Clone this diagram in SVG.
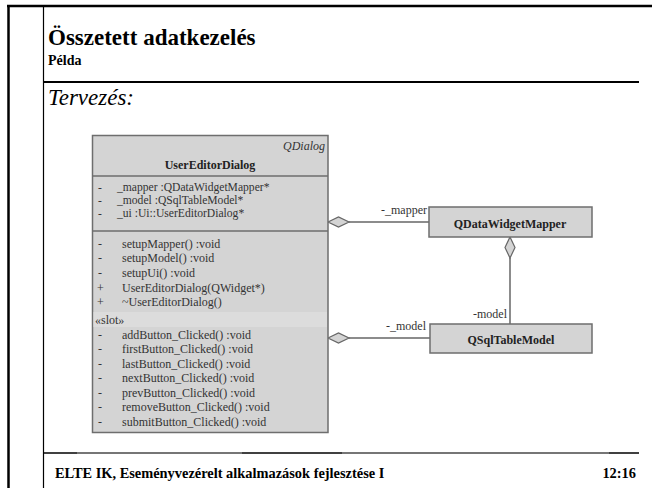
<svg xmlns="http://www.w3.org/2000/svg" width="652" height="488" viewBox="0 0 652 488">
  <style>
    .frame { stroke: #000; fill: none; }
    .title { font-family: "Liberation Serif", serif; font-weight: bold; fill: #000; }
    .box { fill: #d4d4d4; stroke: #6e6e6e; stroke-width: 1.5; }
    .sep { stroke: #6e6e6e; stroke-width: 1.5; }
    .mem { font-family: "Liberation Serif", serif; font-size: 12px; fill: #333; }
    .attr { font-family: "Liberation Serif", serif; font-size: 11.6px; fill: #333; }
    .cname { font-family: "Liberation Serif", serif; font-size: 12px; font-weight: bold; fill: #222; text-anchor: middle; }
    .conn { stroke: #666; stroke-width: 1.5; fill: none; }
    .diamond { fill: #d4d4d4; stroke: #666; stroke-width: 1.2; }
    .role { font-family: "Liberation Serif", serif; font-size: 12px; fill: #333; }
  </style>

  <rect width="652" height="488" fill="#fff"/>

  <!-- page frame -->
  <g id="frame">
    <line class="frame" x1="8.5" y1="5" x2="8.5" y2="488" stroke-width="2.5"/>
    <line class="frame" x1="7" y1="6" x2="652" y2="6" stroke-width="2.5"/>
    <line class="frame" x1="43.5" y1="6" x2="43.5" y2="488" stroke-width="1.2"/>
    <line class="frame" x1="43" y1="82" x2="639" y2="82" stroke-width="2"/>
    <line class="frame" x1="43" y1="453" x2="639" y2="453" stroke-width="1.5"/>
    <line x1="77" y1="453" x2="242" y2="453" stroke="#888" stroke-width="1.5"/>
    <line x1="342" y1="453" x2="609" y2="453" stroke="#888" stroke-width="1.5"/>
  </g>

  <!-- slide headings -->
  <text class="title" x="48" y="45" font-size="23">Összetett adatkezelés</text>
  <text class="title" x="48" y="64.5" font-size="14">Példa</text>
  <text x="48" y="105" font-family="Liberation Serif, serif" font-style="italic" font-size="23" fill="#000">Tervezés:</text>

  <!-- footer -->
  <text class="title" x="55" y="478" font-size="14.4">ELTE IK, Eseményvezérelt alkalmazások fejlesztése I</text>
  <text class="title" x="636" y="478" font-size="14.4" text-anchor="end">12:16</text>

  <!-- connectors -->
  <g id="connectors">
    <line class="conn" x1="349" y1="222" x2="429" y2="222"/>
    <polygon class="diamond" points="328,222 338.5,217 349,222 338.5,227"/>
    <text class="role" x="427" y="214" text-anchor="end">-_mapper</text>

    <line class="conn" x1="349" y1="338" x2="430" y2="338"/>
    <polygon class="diamond" points="328,338 338.5,333 349,338 338.5,343"/>
    <text class="role" x="426" y="330" text-anchor="end">-_model</text>

    <line class="conn" x1="510" y1="258" x2="510" y2="324"/>
    <polygon class="diamond" points="510,237 515,247.5 510,258 505,247.5"/>
    <text class="role" x="507" y="318" text-anchor="end">-model</text>
  </g>

  <!-- UserEditorDialog class -->
  <g id="UserEditorDialog">
    <rect class="box" x="92.5" y="135.5" width="235.5" height="297"/>
    <text x="325" y="150" font-family="Liberation Serif, serif" font-style="italic" font-size="12" fill="#333" text-anchor="end">QDialog</text>
    <text class="cname" x="210" y="169">UserEditorDialog</text>
    <line class="sep" x1="92.5" y1="176" x2="328" y2="176"/>
    <text class="attr" x="98" y="190.5">-</text>
    <text class="attr" x="117" y="190.5">_mapper :QDataWidgetMapper*</text>
    <text class="attr" x="98" y="203.5">-</text>
    <text class="attr" x="117" y="203.5">_model :QSqlTableModel*</text>
    <text class="attr" x="98" y="216.5">-</text>
    <text class="attr" x="117" y="216.5">_ui :Ui::UserEditorDialog*</text>
    <line class="sep" x1="92.5" y1="231" x2="328" y2="231"/>
    <text class="mem" x="98" y="248">-</text>
    <text class="mem" x="122" y="248">setupMapper() :void</text>
    <text class="mem" x="98" y="261.5">-</text>
    <text class="mem" x="122" y="261.5">setupModel() :void</text>
    <text class="mem" x="98" y="277">-</text>
    <text class="mem" x="122" y="277">setupUi() :void</text>
    <text class="mem" x="97" y="292">+</text>
    <text class="mem" x="122" y="292">UserEditorDialog(QWidget*)</text>
    <text class="mem" x="97" y="306">+</text>
    <text class="mem" x="122" y="306">~UserEditorDialog()</text>
    <rect x="93.5" y="312" width="233.5" height="15" fill="#dcdcdc"/>
    <text class="mem" x="95" y="324">«slot»</text>
    <text class="mem" x="98" y="339">-</text>
    <text class="mem" x="122" y="339">addButton_Clicked() :void</text>
    <text class="mem" x="98" y="353">-</text>
    <text class="mem" x="122" y="353">firstButton_Clicked() :void</text>
    <text class="mem" x="98" y="367.5">-</text>
    <text class="mem" x="122" y="367.5">lastButton_Clicked() :void</text>
    <text class="mem" x="98" y="382">-</text>
    <text class="mem" x="122" y="382">nextButton_Clicked() :void</text>
    <text class="mem" x="98" y="397">-</text>
    <text class="mem" x="122" y="397">prevButton_Clicked() :void</text>
    <text class="mem" x="98" y="411">-</text>
    <text class="mem" x="122" y="411">removeButton_Clicked() :void</text>
    <text class="mem" x="98" y="426">-</text>
    <text class="mem" x="122" y="426">submitButton_Clicked() :void</text>
  </g>

  <!-- QDataWidgetMapper class -->
  <g id="QDataWidgetMapper">
    <rect class="box" x="429" y="207" width="163" height="30"/>
    <text class="cname" x="510" y="228">QDataWidgetMapper</text>
  </g>

  <!-- QSqlTableModel class -->
  <g id="QSqlTableModel">
    <rect class="box" x="430" y="324" width="162" height="29"/>
    <text class="cname" x="511" y="344">QSqlTableModel</text>
  </g>
</svg>
